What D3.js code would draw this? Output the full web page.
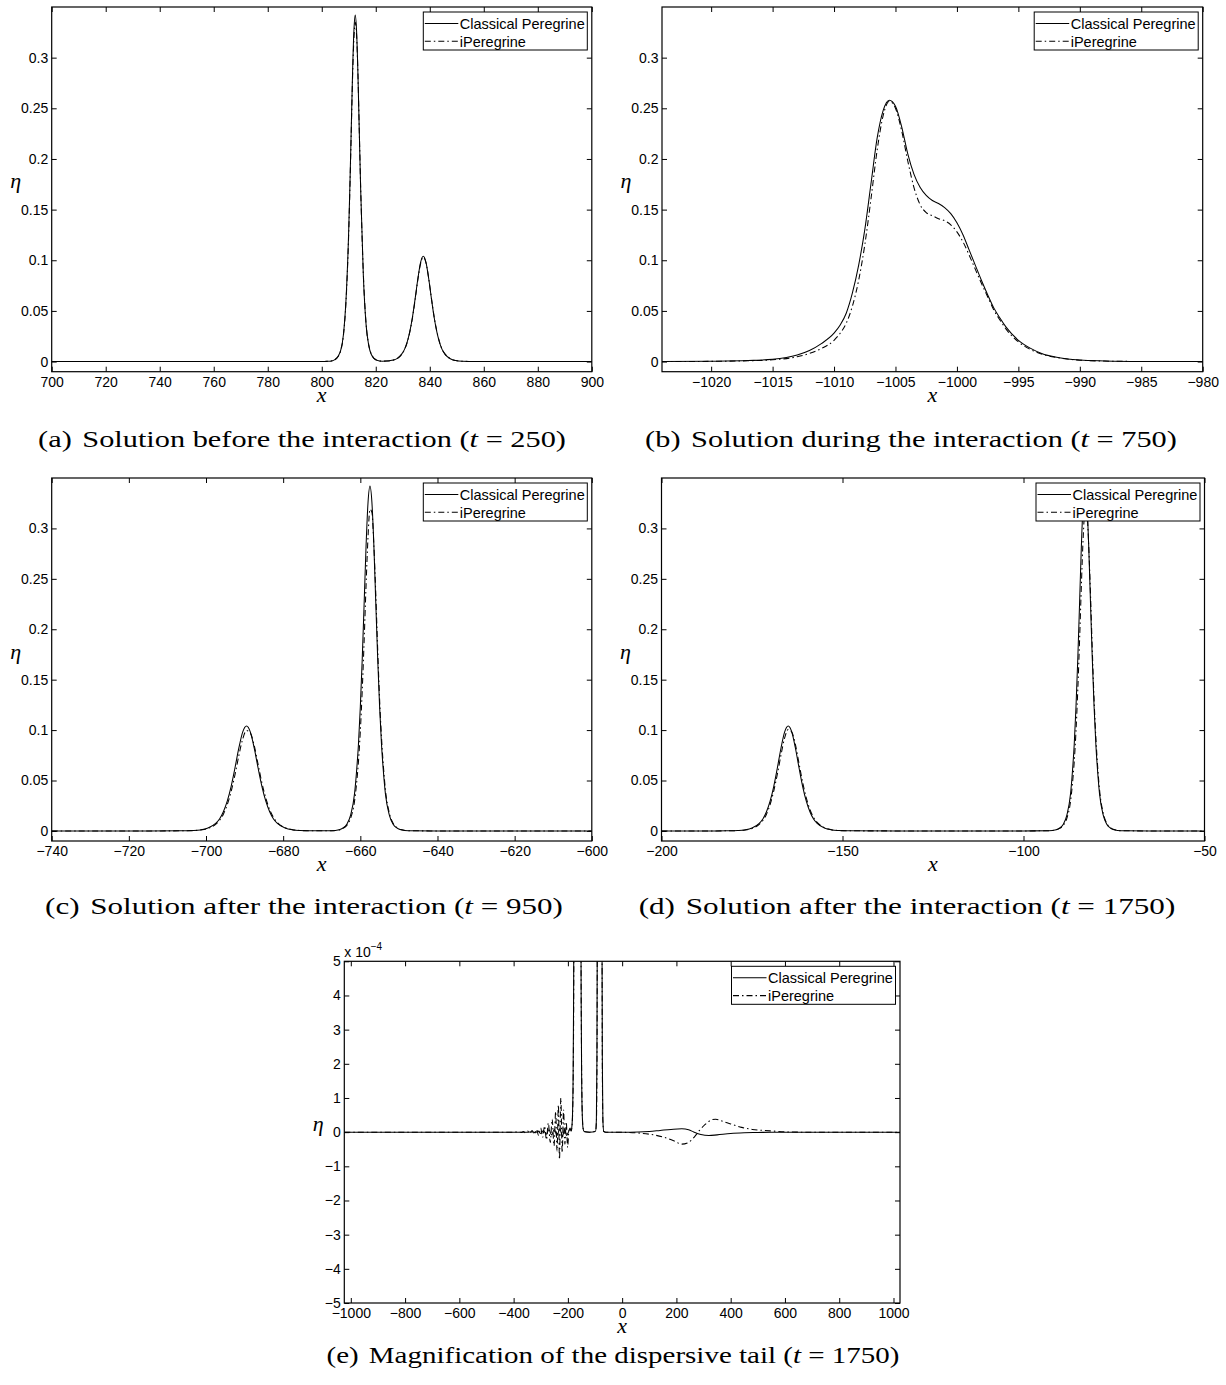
<!DOCTYPE html>
<html><head><meta charset="utf-8">
<script src="https://cdn.jsdelivr.net/npm/d3@7"></script>
<style>
body{margin:0;background:#fff;}
svg{display:block;}
</style></head>
<body>
<svg id="fig" width="1226" height="1385"></svg>
<script>
// ================= DATA =================
const seriesNames = ["Classical Peregrine", "iPeregrine"];

// (a) t = 250
const aX = [700,780,800,802,804,805,806,807,808,809,
  810,810.4,810.9,811.4,811.9,812.4,812.9,813.4,813.9,814.4,
  815.4,816.4,817.4,818.4,820.4,822.4,824,826,828,829.6,
  830.6,831.6,832.6,833.6,834.6,835.6,836.6,837.6,838.6,839.6,
  840.6,841.6,842.6,843.6,844.6,845.6,847.6,849.6,852,855,
  860,870,900];
const aClassical = [0,0,0,0.0002,0.0009,0.0022,0.005,0.011,0.026,0.062,
  0.131,0.171,0.227,0.284,0.326,0.342,0.326,0.284,0.227,0.171,
  0.085,0.037,0.016,0.0068,0.0013,0.0004,0.0005,0.0012,0.0031,0.0074,
  0.0118,0.019,0.0295,0.044,0.0624,0.082,0.098,0.104,0.098,0.082,
  0.0624,0.044,0.0295,0.019,0.0118,0.0074,0.0028,0.001,0.0003,0.0001,
  0,0,0];
const aIPeregrine = [0,0,0,0.0002,0.0008,0.002,0.0047,0.0105,0.025,0.06,
  0.128,0.168,0.223,0.279,0.318,0.335,0.322,0.284,0.228,0.173,
  0.087,0.038,0.0165,0.007,0.0013,0.0004,0.0005,0.0012,0.003,0.0072,
  0.0115,0.0186,0.029,0.0433,0.0615,0.081,0.0968,0.103,0.0975,0.0822,
  0.0628,0.0445,0.03,0.0194,0.012,0.0076,0.0029,0.001,0.0003,0.0001,
  0,0,0];

// (b) t = 750
const bX = [-1024,-1020,-1017,-1015,-1013,-1012,-1011,-1010,-1009.5,-1009,
  -1008.5,-1008,-1007.5,-1007,-1006.5,-1006,-1005.5,-1005,-1004.5,-1004,
  -1003.5,-1003,-1002.5,-1002,-1001.5,-1001,-1000.5,-1000,-999.5,-999,
  -998.5,-998,-997.5,-997,-996.5,-996,-995,-994,-993,-992,
  -991,-990,-988,-985,-980];
const bClassical = [0,0.0003,0.001,0.0022,0.0065,0.011,0.018,0.028,0.036,0.048,
  0.068,0.095,0.13,0.175,0.22,0.248,0.258,0.252,0.232,0.205,
  0.185,0.172,0.164,0.159,0.156,0.152,0.146,0.137,0.125,0.110,
  0.095,0.080,0.066,0.053,0.043,0.034,0.021,0.013,0.0075,0.0045,
  0.0026,0.0015,0.0006,0.0001,0];
const bIPeregrine = [0,0.0002,0.0008,0.0017,0.0048,0.008,0.013,0.021,0.028,0.038,
  0.055,0.08,0.115,0.16,0.208,0.243,0.257,0.25,0.228,0.198,
  0.172,0.155,0.147,0.144,0.141,0.139,0.135,0.128,0.118,0.105,
  0.091,0.077,0.064,0.051,0.041,0.032,0.0195,0.0118,0.007,0.0042,
  0.0025,0.0014,0.0005,0.0001,0];

// (c) t = 950
const cX = [-740,-715,-706.5,-703.5,-701.5,-699.5,-697.5,-696.5,-695.5,-694.5,
  -693.5,-692.5,-691.5,-690.5,-689.5,-688.5,-687.5,-686.5,-685.5,-684.5,
  -683.5,-682.5,-681.5,-679.5,-677.5,-675.5,-672.5,-669.5,-667.5,-665.5,
  -664.5,-663.5,-662.5,-661.5,-661,-660.5,-660,-659.5,-659,-658.5,
  -658,-657.5,-657,-656.5,-656,-655.5,-655,-654.5,-654,-653.5,
  -652.5,-651.5,-650.5,-649.5,-647.5,-640,-600];
const cClassical = [0,0,0.0001,0.0004,0.001,0.0028,0.0074,0.0118,0.019,0.0295,
  0.044,0.0624,0.082,0.098,0.104,0.098,0.082,0.0624,0.044,0.0295,
  0.019,0.0118,0.0074,0.0028,0.001,0.0004,0.0001,0.0001,0.0002,0.0012,
  0.0029,0.0067,0.016,0.037,0.058,0.085,0.123,0.171,0.227,0.284,
  0.326,0.342,0.326,0.284,0.227,0.171,0.123,0.085,0.058,0.037,
  0.016,0.0067,0.0029,0.0012,0.0002,0,0];
const cIPeregrine = [0,0,0.0001,0.0003,0.0009,0.0025,0.0065,0.0104,0.0166,0.026,
  0.039,0.0555,0.0745,0.091,0.0995,0.097,0.0845,0.066,0.0475,0.0325,
  0.021,0.0133,0.0083,0.0032,0.0012,0.0004,0.0001,0.0001,0.0002,0.001,
  0.0025,0.0055,0.0128,0.0295,0.046,0.068,0.099,0.14,0.19,0.245,
  0.292,0.319,0.316,0.284,0.236,0.18,0.13,0.092,0.063,0.041,
  0.018,0.0075,0.0032,0.0013,0.0002,0,0];

// (d) t = 1750
const dX = [-200,-185,-182,-179,-177,-175,-173,-172,-171,-170,
  -169,-168,-167,-166,-165,-164,-163,-162,-161,-160,
  -159,-158,-157,-155,-153,-151,-148,-130,-100,-93,
  -91,-90,-89,-88,-87,-86.5,-86,-85.5,-85,-84.5,
  -84,-83.5,-83,-82.5,-82,-81.5,-81,-80.5,-80,-79.5,
  -79,-78,-77,-76,-75,-73,-65,-50];
const dClassical = [0,0,0.0001,0.0004,0.001,0.0028,0.0074,0.0118,0.019,0.0295,
  0.044,0.0624,0.082,0.098,0.104,0.098,0.082,0.0624,0.044,0.0295,
  0.019,0.0118,0.0074,0.0028,0.001,0.0004,0.0001,0,0,0.0002,
  0.0012,0.0029,0.0067,0.016,0.037,0.058,0.085,0.123,0.171,0.227,
  0.284,0.326,0.342,0.326,0.284,0.227,0.171,0.123,0.085,0.058,
  0.037,0.016,0.0067,0.0029,0.0012,0.0002,0,0];
const dIPeregrine = [0,0,0.0001,0.0003,0.0009,0.0025,0.0064,0.0104,0.0166,0.0262,
  0.0395,0.0562,0.0752,0.092,0.1005,0.098,0.0855,0.0667,0.048,0.0328,
  0.0212,0.0134,0.0084,0.0032,0.0012,0.0004,0.0001,0,0,0.0002,
  0.001,0.0025,0.0055,0.0128,0.0295,0.046,0.068,0.099,0.14,0.19,
  0.245,0.292,0.319,0.316,0.284,0.236,0.18,0.13,0.092,0.063,
  0.041,0.018,0.0075,0.0032,0.0013,0.0002,0,0];

// (e) t = 1750, magnified (values in units of 1e-4)
const eClassicalX = [-1024,-400,-350,-330,-320,-310,-300,-290,-280,-270,
  -260,-250,-240,-230,-220,-212,-205,-198,-192,-188,
  -185,-183,-181,-179,-177,-173,-165,-157,-153,-151,
  -149,-147,-144,-140,-120,-98,-95,-93,-92,-91,
  -88,-83,-78,-75,-74,-73,-71,-68,-60,0,
  60,100,140,180,220,245,265,290,320,350,
  400,450,500,550,1024];
const eClassicalY = [0,0,0,0.01,-0.02,0.03,-0.04,0.05,-0.06,0.07,
  -0.08,0.08,-0.1,0.1,-0.12,0.08,-0.1,0,0.12,0.03,
  0.19,0.51,1.4,3.8,10.3,77,1040,77,10.3,3.8,
  1.4,0.51,0.11,0.02,0,0.025,0.36,2.1,5.0,12,
  160,3420,160,12,5.0,2.1,0.36,0.025,0,0,
  0.005,0.02,0.05,0.08,0.1,0.07,0,-0.07,-0.1,-0.08,
  -0.04,-0.02,-0.01,0,0];
const eIPeregrineX = [-1024,-400,-380,-372,-364,-356,-348,-340,-332,-324,
  -316,-308,-300,-293,-286,-279,-272,-265,-258,-251,
  -245,-240,-235,-231,-226,-221,-216,-211,-206,-201,
  -196,-191,-187,-184,-182,-180,-178,-176,-172,-164.7,
  -157,-152,-150,-148,-146,-143,-139,-120,-98,-95,
  -93,-91.8,-90.8,-87.8,-82.8,-77.8,-74.8,-73.8,-72.8,-70.8,
  -67.8,-60,0,50,100,150,190,220,245,265,
  285,305,330,345,370,400,440,480,520,560,
  600,650,1024];
const eIPeregrineY = [0,0,0.01,-0.01,0.02,-0.02,0.03,-0.04,0.05,-0.06,
  0.08,-0.1,0.12,-0.15,0.18,-0.22,0.27,-0.3,0.38,-0.4,
  0.6,-0.55,0.8,-0.8,1.0,-0.6,0.65,-0.35,0.3,-0.45,
  0.05,0.08,0.05,0.26,0.7,1.9,5.2,14,105,1010,
  81,7.1,2.6,0.96,0.35,0.08,0.01,0,0.02,0.28,
  1.6,4.7,11.3,149,3220,149,11.3,4.7,1.6,0.28,
  0.02,0,-0.005,-0.02,-0.06,-0.14,-0.25,-0.35,-0.3,-0.15,
  0.05,0.22,0.36,0.38,0.32,0.24,0.14,0.08,0.05,0.03,
  0.01,0,0];

// ticks
const aXTicks = [700,720,740,760,780,800,820,840,860,880,900];
const bXTicks = [-1020,-1015,-1010,-1005,-1000,-995,-990,-985,-980];
const cXTicks = [-740,-720,-700,-680,-660,-640,-620,-600];
const dXTicks = [-200,-150,-100,-50];
const eXTicks = [-1000,-800,-600,-400,-200,0,200,400,600,800,1000];
const etaTicks = [0,0.05,0.1,0.15,0.2,0.25,0.3];
const etaTickLabels = ["0","0.05","0.1","0.15","0.2","0.25","0.3"];
const eYTicks = [-5,-4,-3,-2,-1,0,1,2,3,4,5];

// captions
const captionTags = ["(a)","(b)","(c)","(d)","(e)"];
const captionTexts = ["Solution before the interaction","Solution during the interaction",
  "Solution after the interaction","Solution after the interaction",
  "Magnification of the dispersive tail"];
const captionTimes = ["250","750","950","1750","1750"];

// ================= LAYOUT =================
const SANS = "'Liberation Sans', Arial, Helvetica, sans-serif";
const SERIF = "'Liberation Serif', 'Times New Roman', serif";

const panels = [
  {box:[51.7,591.8,7,371.7], xd:[700,900], yd:[-0.01,0.35],
   series:[[aX,aClassical],[aX,aIPeregrine]], xt:aXTicks, yt:etaTicks, ytl:etaTickLabels,
   cap:0, capX:302, capY:447, capW:528, etaDx:36},
  {box:[662,1202.7,7,371.7], xd:[-1024,-980], yd:[-0.01,0.35],
   series:[[bX,bClassical],[bX,bIPeregrine]], xt:bXTicks, yt:etaTicks, ytl:etaTickLabels,
   cap:1, capX:911, capY:447, capW:532, etaDx:36},
  {box:[51.7,591.8,478,841], xd:[-740,-600], yd:[-0.01,0.35],
   series:[[cX,cClassical],[cX,cIPeregrine]], xt:cXTicks, yt:etaTicks, ytl:etaTickLabels,
   cap:2, capX:304, capY:914, capW:518, etaDx:36},
  {box:[661.5,1204.5,478,841], xd:[-200,-50], yd:[-0.01,0.35],
   series:[[dX,dClassical],[dX,dIPeregrine]], xt:dXTicks, yt:etaTicks, ytl:etaTickLabels,
   cap:3, capX:907, capY:914, capW:537, etaDx:36},
  {box:[344.3,900,961.3,1303], xd:[-1024,1024], yd:[-5,5],
   series:[[eClassicalX,eClassicalY],[eIPeregrineX,eIPeregrineY]], xt:eXTicks, yt:eYTicks, ytl:null,
   cap:4, capX:613, capY:1363, capW:573, etaDx:26, exponent:"−4"}
];

const svg = d3.select("#fig");
svg.append("rect").attr("width",1226).attr("height",1385).attr("fill","#fff");
const defs = svg.append("defs");

const fmtNum = d => (d < 0 ? "\u2212" : "") + Math.abs(d);
const dashes = [null, "6,3,1.5,3"];

panels.forEach((p, i) => {
  const [x0,x1,y0,y1] = p.box;
  const xs = d3.scaleLinear().domain(p.xd).range([x0,x1]);
  const ys = d3.scaleLinear().domain(p.yd).range([y1,y0]);
  const g = svg.append("g");

  const clipId = "clip" + i;
  defs.append("clipPath").attr("id", clipId)
    .append("rect").attr("x",x0).attr("y",y0).attr("width",x1-x0).attr("height",y1-y0);

  const yfmt = p.ytl ? ((d,k) => p.ytl[k]) : fmtNum;

  const styleAxis = sel => {
    sel.select(".domain").remove();
    sel.attr("font-family", SANS).attr("font-size", 14);
    sel.selectAll("line").attr("stroke","#000").attr("stroke-width",1);
    sel.selectAll("text").attr("fill","#000");
  };

  g.append("g").attr("transform",`translate(0,${y1})`)
    .call(d3.axisBottom(xs).tickValues(p.xt).tickFormat(fmtNum).tickSizeInner(-5).tickSizeOuter(0).tickPadding(5.5))
    .call(styleAxis);
  g.append("g").attr("transform",`translate(0,${y0})`)
    .call(d3.axisTop(xs).tickValues(p.xt).tickFormat("").tickSizeInner(-5).tickSizeOuter(0))
    .call(styleAxis);
  g.append("g").attr("transform",`translate(${x0},0)`)
    .call(d3.axisLeft(ys).tickValues(p.yt).tickFormat(yfmt).tickSizeInner(-5).tickSizeOuter(0).tickPadding(3.5))
    .call(styleAxis);
  g.append("g").attr("transform",`translate(${x1},0)`)
    .call(d3.axisRight(ys).tickValues(p.yt).tickFormat("").tickSizeInner(-5).tickSizeOuter(0))
    .call(styleAxis);

  // curves
  const line = d3.line().x(d => xs(d[0])).y(d => ys(d[1])).curve(d3.curveMonotoneX);
  const plot = g.append("g").attr("clip-path", `url(#${clipId})`);
  p.series.forEach(([xv, yv], s) => {
    const pts = xv.map((xx, k) => [xx, yv[k]]);
    plot.append("path").attr("d", line(pts)).attr("fill","none")
      .attr("stroke","#000").attr("stroke-width",1.05)
      .attr("stroke-dasharray", dashes[s]);
  });

  // legend
  const lw = 164, lh = 38;
  const lx = x1 - 4.5 - lw, ly = y0 + 5;
  const leg = g.append("g");
  leg.append("rect").attr("x",lx).attr("y",ly).attr("width",lw).attr("height",lh)
    .attr("fill","#fff").attr("stroke","#000").attr("stroke-width",1);
  seriesNames.forEach((nm, s) => {
    const ry = ly + 11.5 + s*17.8;
    leg.append("line").attr("x1",lx+1.5).attr("x2",lx+35).attr("y1",ry).attr("y2",ry)
      .attr("stroke","#000").attr("stroke-width",1.05).attr("stroke-dasharray", dashes[s]);
    leg.append("text").attr("x",lx+36.5).attr("y",ry).attr("dy","0.36em")
      .attr("font-family",SANS).attr("font-size",14.5).attr("fill","#000").text(nm);
  });

  // box
  g.append("rect").attr("x",x0).attr("y",y0).attr("width",x1-x0).attr("height",y1-y0)
    .attr("fill","none").attr("stroke","#000").attr("stroke-width",1.2);

  // exponent label
  if (p.exponent) {
    const t = g.append("text").attr("x",x0).attr("y",y0-4).attr("font-family",SANS)
      .attr("font-size",14).attr("fill","#000");
    t.append("tspan").text("x 10");
    t.append("tspan").attr("font-size",10).attr("dy",-7).text(p.exponent);
  }

  // axis labels
  g.append("text").attr("x",(x0+x1)/2).attr("y",y1+30).attr("text-anchor","middle")
    .attr("font-family",SERIF).attr("font-style","italic").attr("font-size",22).attr("fill","#000").text("x");
  g.append("text").attr("x",x0-p.etaDx).attr("y",(y0+y1)/2-1).attr("text-anchor","middle")
    .attr("font-family",SERIF).attr("font-style","italic").attr("font-size",22).attr("fill","#000").text("η");

  // caption (Computer-Modern-like width: stretch horizontally to the measured width)
  const cg = g.append("g");
  const c = cg.append("text").attr("x",p.capX).attr("y",p.capY).attr("text-anchor","middle")
    .attr("font-family",SERIF).attr("font-size",23).attr("fill","#000");
  c.append("tspan").text(captionTags[p.cap]);
  c.append("tspan").attr("dx",8).text(captionTexts[p.cap] + " (");
  c.append("tspan").attr("font-style","italic").text("t");
  c.append("tspan").text(" = " + captionTimes[p.cap] + ")");
  const bb = c.node().getBBox();
  const sx = p.capW / bb.width;
  const cx = bb.x + bb.width/2;
  cg.attr("transform", `translate(${p.capX},0) scale(${sx},1) translate(${-cx},0)`);
});
</script>
</body></html>
